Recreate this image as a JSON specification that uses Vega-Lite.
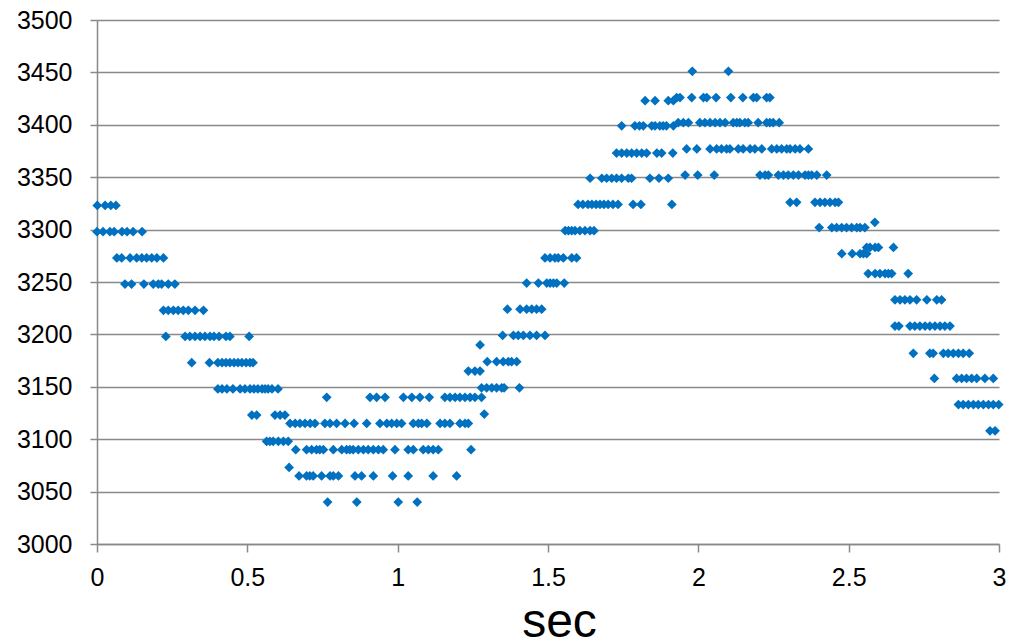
{
"$schema":"https://vega.github.io/schema/vega-lite/v6.json",
"width":902,"height":524,
"autosize":{"type":"none"},
"padding":{"left":97,"top":20,"right":14,"bottom":98},
"background":"white",
"config":{"view":{"stroke":null},"font":"Liberation Sans"},
"data":{"values":[
{"x":0.001,"y":3323},{"x":0.027,"y":3323},{"x":0.046,"y":3323},{"x":0.063,"y":3323},
{"x":0.0,"y":3298},{"x":0.020,"y":3298},{"x":0.043,"y":3298},{"x":0.057,"y":3298},{"x":0.083,"y":3298},{"x":0.100,"y":3298},{"x":0.120,"y":3298},{"x":0.150,"y":3298},
{"x":0.066,"y":3273},{"x":0.082,"y":3273},{"x":0.110,"y":3273},{"x":0.132,"y":3273},{"x":0.149,"y":3273},{"x":0.165,"y":3273},{"x":0.182,"y":3273},{"x":0.199,"y":3273},{"x":0.221,"y":3273},
{"x":0.093,"y":3248},{"x":0.115,"y":3248},{"x":0.156,"y":3248},{"x":0.187,"y":3248},{"x":0.204,"y":3248},{"x":0.215,"y":3248},{"x":0.237,"y":3248},{"x":0.259,"y":3248},
{"x":0.221,"y":3223},{"x":0.237,"y":3223},{"x":0.254,"y":3223},{"x":0.270,"y":3223},{"x":0.287,"y":3223},{"x":0.304,"y":3223},{"x":0.326,"y":3223},{"x":0.354,"y":3223},
{"x":0.229,"y":3198},{"x":0.293,"y":3198},{"x":0.309,"y":3198},{"x":0.326,"y":3198},{"x":0.343,"y":3198},{"x":0.359,"y":3198},{"x":0.376,"y":3198},{"x":0.389,"y":3198},{"x":0.406,"y":3198},{"x":0.429,"y":3198},{"x":0.442,"y":3198},{"x":0.506,"y":3198},
{"x":0.315,"y":3173},{"x":0.374,"y":3173},{"x":0.402,"y":3173},{"x":0.416,"y":3173},{"x":0.429,"y":3173},{"x":0.442,"y":3173},{"x":0.456,"y":3173},{"x":0.469,"y":3173},{"x":0.482,"y":3173},{"x":0.496,"y":3173},{"x":0.509,"y":3173},{"x":0.519,"y":3173},
{"x":0.402,"y":3148},{"x":0.416,"y":3148},{"x":0.432,"y":3148},{"x":0.452,"y":3148},{"x":0.476,"y":3148},{"x":0.492,"y":3148},{"x":0.509,"y":3148},{"x":0.522,"y":3148},{"x":0.535,"y":3148},{"x":0.549,"y":3148},{"x":0.559,"y":3148},{"x":0.569,"y":3148},{"x":0.582,"y":3148},{"x":0.602,"y":3148},
{"x":0.515,"y":3123},{"x":0.531,"y":3123},{"x":0.592,"y":3123},{"x":0.609,"y":3123},{"x":0.625,"y":3123},
{"x":0.564,"y":3098},{"x":0.575,"y":3098},{"x":0.586,"y":3098},{"x":0.603,"y":3098},{"x":0.620,"y":3098},{"x":0.636,"y":3098},
{"x":0.639,"y":3073},
{"x":0.764,"y":3140},{"x":0.908,"y":3140},{"x":0.930,"y":3140},{"x":0.958,"y":3140},{"x":1.019,"y":3140},{"x":1.047,"y":3140},{"x":1.074,"y":3140},{"x":1.105,"y":3140},{"x":1.157,"y":3140},{"x":1.174,"y":3140},{"x":1.191,"y":3140},{"x":1.207,"y":3140},{"x":1.224,"y":3140},{"x":1.241,"y":3140},{"x":1.257,"y":3140},{"x":1.279,"y":3140},
{"x":0.642,"y":3115},{"x":0.659,"y":3115},{"x":0.675,"y":3115},{"x":0.692,"y":3115},{"x":0.709,"y":3115},{"x":0.725,"y":3115},{"x":0.758,"y":3115},{"x":0.775,"y":3115},{"x":0.797,"y":3115},{"x":0.825,"y":3115},{"x":0.855,"y":3115},{"x":0.897,"y":3115},{"x":0.941,"y":3115},{"x":0.964,"y":3115},{"x":0.980,"y":3115},{"x":0.997,"y":3115},{"x":1.013,"y":3115},{"x":1.052,"y":3115},{"x":1.069,"y":3115},{"x":1.080,"y":3115},{"x":1.097,"y":3115},{"x":1.141,"y":3115},{"x":1.157,"y":3115},{"x":1.174,"y":3115},{"x":1.207,"y":3115},{"x":1.224,"y":3115},{"x":1.235,"y":3115},
{"x":0.661,"y":3090},{"x":0.697,"y":3090},{"x":0.714,"y":3090},{"x":0.730,"y":3090},{"x":0.741,"y":3090},{"x":0.753,"y":3090},{"x":0.786,"y":3090},{"x":0.814,"y":3090},{"x":0.830,"y":3090},{"x":0.841,"y":3090},{"x":0.852,"y":3090},{"x":0.869,"y":3090},{"x":0.886,"y":3090},{"x":0.902,"y":3090},{"x":0.919,"y":3090},{"x":0.936,"y":3090},{"x":0.952,"y":3090},{"x":0.991,"y":3090},{"x":1.035,"y":3090},{"x":1.052,"y":3090},{"x":1.085,"y":3090},{"x":1.102,"y":3090},{"x":1.118,"y":3090},{"x":1.135,"y":3090},{"x":1.244,"y":3090},
{"x":0.672,"y":3065},{"x":0.697,"y":3065},{"x":0.708,"y":3065},{"x":0.719,"y":3065},{"x":0.747,"y":3065},{"x":0.775,"y":3065},{"x":0.786,"y":3065},{"x":0.803,"y":3065},{"x":0.858,"y":3065},{"x":0.880,"y":3065},{"x":0.919,"y":3065},{"x":0.983,"y":3065},{"x":1.035,"y":3065},{"x":1.118,"y":3065},{"x":1.196,"y":3065},
{"x":0.767,"y":3040},{"x":0.864,"y":3040},{"x":1.002,"y":3040},{"x":1.065,"y":3040},
{"x":1.288,"y":3124},
{"x":1.279,"y":3149},{"x":1.296,"y":3149},{"x":1.313,"y":3149},{"x":1.329,"y":3149},{"x":1.346,"y":3149},{"x":1.354,"y":3149},{"x":1.405,"y":3149},
{"x":1.235,"y":3165},{"x":1.257,"y":3165},{"x":1.274,"y":3165},
{"x":1.298,"y":3174},{"x":1.329,"y":3174},{"x":1.351,"y":3174},{"x":1.368,"y":3174},{"x":1.379,"y":3174},{"x":1.396,"y":3174},
{"x":1.274,"y":3190},
{"x":1.349,"y":3199},{"x":1.385,"y":3199},{"x":1.401,"y":3199},{"x":1.418,"y":3199},{"x":1.440,"y":3199},{"x":1.462,"y":3199},{"x":1.490,"y":3199},
{"x":1.365,"y":3224},{"x":1.407,"y":3224},{"x":1.429,"y":3224},{"x":1.446,"y":3224},{"x":1.462,"y":3224},{"x":1.479,"y":3224},
{"x":1.429,"y":3249},{"x":1.468,"y":3249},{"x":1.496,"y":3249},{"x":1.507,"y":3249},{"x":1.518,"y":3249},{"x":1.529,"y":3249},{"x":1.554,"y":3249},
{"x":1.490,"y":3273},{"x":1.507,"y":3273},{"x":1.523,"y":3273},{"x":1.534,"y":3273},{"x":1.551,"y":3273},{"x":1.579,"y":3273},{"x":1.595,"y":3273},
{"x":1.557,"y":3299},{"x":1.568,"y":3299},{"x":1.579,"y":3299},{"x":1.590,"y":3299},{"x":1.606,"y":3299},{"x":1.623,"y":3299},{"x":1.640,"y":3299},{"x":1.653,"y":3299},
{"x":1.600,"y":3324},{"x":1.616,"y":3324},{"x":1.633,"y":3324},{"x":1.646,"y":3324},{"x":1.660,"y":3324},{"x":1.673,"y":3324},{"x":1.686,"y":3324},{"x":1.700,"y":3324},{"x":1.716,"y":3324},{"x":1.733,"y":3324},{"x":1.783,"y":3324},{"x":1.809,"y":3324},{"x":1.912,"y":3324},
{"x":1.640,"y":3349},{"x":1.679,"y":3349},{"x":1.695,"y":3349},{"x":1.712,"y":3349},{"x":1.728,"y":3349},{"x":1.745,"y":3349},{"x":1.767,"y":3349},{"x":1.778,"y":3349},{"x":1.839,"y":3349},{"x":1.869,"y":3349},{"x":1.900,"y":3349},
{"x":1.956,"y":3352},{"x":1.998,"y":3352},{"x":2.053,"y":3352},{"x":2.205,"y":3352},{"x":2.222,"y":3352},{"x":2.233,"y":3352},{"x":2.266,"y":3352},{"x":2.283,"y":3352},{"x":2.299,"y":3352},{"x":2.316,"y":3352},{"x":2.333,"y":3352},{"x":2.355,"y":3352},{"x":2.366,"y":3352},{"x":2.377,"y":3352},{"x":2.394,"y":3352},{"x":2.427,"y":3352},
{"x":1.728,"y":3373},{"x":1.745,"y":3373},{"x":1.762,"y":3373},{"x":1.778,"y":3373},{"x":1.795,"y":3373},{"x":1.812,"y":3373},{"x":1.828,"y":3373},{"x":1.862,"y":3373},{"x":1.878,"y":3373},{"x":1.915,"y":3373},
{"x":1.961,"y":3377},{"x":1.995,"y":3377},{"x":2.039,"y":3377},{"x":2.061,"y":3377},{"x":2.077,"y":3377},{"x":2.094,"y":3377},{"x":2.105,"y":3377},{"x":2.133,"y":3377},{"x":2.149,"y":3377},{"x":2.172,"y":3377},{"x":2.188,"y":3377},{"x":2.211,"y":3377},{"x":2.244,"y":3377},{"x":2.261,"y":3377},{"x":2.277,"y":3377},{"x":2.294,"y":3377},{"x":2.305,"y":3377},{"x":2.322,"y":3377},{"x":2.338,"y":3377},{"x":2.366,"y":3377},
{"x":1.745,"y":3399},{"x":1.789,"y":3399},{"x":1.804,"y":3399},{"x":1.817,"y":3399},{"x":1.845,"y":3399},{"x":1.856,"y":3399},{"x":1.872,"y":3399},{"x":1.883,"y":3399},{"x":1.894,"y":3399},{"x":1.917,"y":3399},
{"x":1.933,"y":3402},{"x":1.950,"y":3402},{"x":1.967,"y":3402},{"x":2.005,"y":3402},{"x":2.022,"y":3402},{"x":2.039,"y":3402},{"x":2.056,"y":3402},{"x":2.072,"y":3402},{"x":2.089,"y":3402},{"x":2.116,"y":3402},{"x":2.128,"y":3402},{"x":2.138,"y":3402},{"x":2.155,"y":3402},{"x":2.166,"y":3402},{"x":2.199,"y":3402},{"x":2.227,"y":3402},{"x":2.238,"y":3402},{"x":2.249,"y":3402},{"x":2.269,"y":3402},
{"x":1.823,"y":3423},{"x":1.856,"y":3423},{"x":1.900,"y":3423},{"x":1.917,"y":3423},
{"x":1.928,"y":3426},{"x":1.939,"y":3426},{"x":1.978,"y":3426},{"x":2.017,"y":3426},{"x":2.028,"y":3426},{"x":2.059,"y":3426},{"x":2.108,"y":3426},{"x":2.148,"y":3426},{"x":2.183,"y":3426},{"x":2.194,"y":3426},{"x":2.227,"y":3426},{"x":2.238,"y":3426},
{"x":1.980,"y":3451},{"x":2.100,"y":3451},
{"x":2.305,"y":3326},{"x":2.327,"y":3326},{"x":2.388,"y":3326},{"x":2.405,"y":3326},{"x":2.421,"y":3326},{"x":2.438,"y":3326},{"x":2.455,"y":3326},{"x":2.466,"y":3326},
{"x":2.587,"y":3307},
{"x":2.402,"y":3302},{"x":2.444,"y":3302},{"x":2.460,"y":3302},{"x":2.477,"y":3302},{"x":2.493,"y":3302},{"x":2.510,"y":3302},{"x":2.527,"y":3302},{"x":2.538,"y":3302},{"x":2.554,"y":3302},
{"x":2.560,"y":3283},{"x":2.571,"y":3283},{"x":2.588,"y":3283},{"x":2.599,"y":3283},{"x":2.649,"y":3283},
{"x":2.477,"y":3277},{"x":2.512,"y":3277},{"x":2.538,"y":3277},{"x":2.549,"y":3277},{"x":2.560,"y":3277},
{"x":2.565,"y":3258},{"x":2.588,"y":3258},{"x":2.604,"y":3258},{"x":2.621,"y":3258},{"x":2.632,"y":3258},{"x":2.643,"y":3258},{"x":2.698,"y":3258},
{"x":2.654,"y":3233},{"x":2.671,"y":3233},{"x":2.687,"y":3233},{"x":2.704,"y":3233},{"x":2.726,"y":3233},{"x":2.760,"y":3233},{"x":2.793,"y":3233},{"x":2.809,"y":3233},
{"x":2.654,"y":3208},{"x":2.667,"y":3208},{"x":2.704,"y":3208},{"x":2.720,"y":3208},{"x":2.737,"y":3208},{"x":2.754,"y":3208},{"x":2.770,"y":3208},{"x":2.787,"y":3208},{"x":2.804,"y":3208},{"x":2.820,"y":3208},{"x":2.837,"y":3208},
{"x":2.715,"y":3182},{"x":2.770,"y":3182},{"x":2.781,"y":3182},{"x":2.815,"y":3182},{"x":2.831,"y":3182},{"x":2.848,"y":3182},{"x":2.865,"y":3182},{"x":2.881,"y":3182},{"x":2.901,"y":3182},
{"x":2.785,"y":3158},{"x":2.859,"y":3158},{"x":2.876,"y":3158},{"x":2.892,"y":3158},{"x":2.909,"y":3158},{"x":2.926,"y":3158},{"x":2.953,"y":3158},{"x":2.981,"y":3158},
{"x":2.865,"y":3133},{"x":2.881,"y":3133},{"x":2.898,"y":3133},{"x":2.915,"y":3133},{"x":2.931,"y":3133},{"x":2.948,"y":3133},{"x":2.965,"y":3133},{"x":2.981,"y":3133},{"x":2.999,"y":3133},
{"x":2.970,"y":3108},{"x":2.987,"y":3108}
]},
"mark":{"type":"point","shape":"diamond","filled":true,"size":95,"color":"#0070C0","opacity":1},
"encoding":{
"x":{"field":"x","type":"quantitative","scale":{"domain":[0,3],"nice":false,"zero":false},
"axis":{"values":[0,0.5,1,1.5,2,2.5,3],"format":"~g","grid":false,"title":"sec","titleFont":"Liberation Sans","titleFontSize":48,"titleFontWeight":"normal","titleColor":"#000000","titlePadding":8,"titleX":462,"titleAnchor":"start","titleAlign":"center","labelFont":"Liberation Sans","labelFontSize":25,"labelColor":"#000000","labelFlush":false,"labelOverlap":false,"tickColor":"#898989","tickSize":8,"tickWidth":1.5,"domainColor":"#898989","domainWidth":1.5,"labelPadding":13}},
"y":{"field":"y","type":"quantitative","scale":{"domain":[3000,3500],"nice":false,"zero":false},
"axis":{"values":[3000,3050,3100,3150,3200,3250,3300,3350,3400,3450,3500],"format":"d","grid":true,"gridColor":"#898989","gridWidth":1.5,"title":null,"labelFont":"Liberation Sans","labelFontSize":25,"labelColor":"#000000","labelOverlap":false,"labelFlush":false,"tickColor":"#898989","tickSize":7,"tickWidth":1.5,"domainColor":"#898989","domainWidth":1.5,"labelPadding":18}}
}
}
